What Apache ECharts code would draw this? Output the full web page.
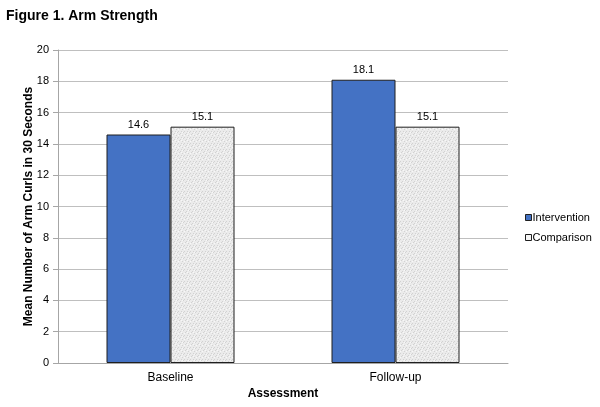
<!DOCTYPE html>
<html><head><meta charset="utf-8">
<script src="https://cdn.jsdelivr.net/npm/echarts@6/dist/echarts.min.js"></script>
<style>html,body{margin:0;padding:0;background:#fff}#c{width:600px;height:407px}</style>
</head><body><div id="c"></div>
<script>
const categories = ['Baseline', 'Follow-up'];
const intervention = [14.6, 18.1];
const comparison = [15.1, 15.1];
const yTicks = { min: 0, max: 20, interval: 2 };

// light speckled texture for the comparison bars
const pc = document.createElement('canvas');
pc.width = 6; pc.height = 6;
const g = pc.getContext('2d');
g.fillStyle = '#ebebeb'; g.fillRect(0, 0, 6, 6);
g.fillStyle = '#d2d2d2';
[[0,1],[3,0],[5,2],[2,3],[4,5],[1,5]].forEach(p => g.fillRect(p[0], p[1], 1, 1));
g.fillStyle = '#f8f8f8';
[[1,2],[4,3],[2,0]].forEach(p => g.fillRect(p[0], p[1], 1, 1));

const font = 'Liberation Sans, Arial, sans-serif';
const chart = echarts.init(document.getElementById('c'));
chart.setOption({
  animation: false,
  textStyle: { fontFamily: font },
  title: { text: 'Figure 1. Arm Strength', left: 1, top: 4,
    textStyle: { fontFamily: font, fontSize: 14, fontWeight: 'bold', color: '#000' } },
  legend: {
    orient: 'vertical', left: 520, top: 207, itemWidth: 6, itemHeight: 6, itemGap: 9,
    textStyle: { fontFamily: font, fontSize: 11, color: '#000', padding: [0, 0, 0, -4] },
    data: [
      { name: 'Intervention', icon: 'rect', itemStyle: { color: '#4472c4', borderColor: '#1f1f1f', borderWidth: 1 } },
      { name: 'Comparison', icon: 'rect', itemStyle: { color: '#f5f5f5', borderColor: '#1f1f1f', borderWidth: 1 } }
    ]
  },
  grid: { left: 58, right: 92, top: 50, bottom: 44, outerBoundsMode: 'none', containLabel: false },
  xAxis: {
    type: 'category', data: categories,
    name: 'Assessment', nameLocation: 'middle', nameGap: 25, nameMoveOverlap: false,
    nameTextStyle: { fontFamily: font, fontSize: 12, fontWeight: 'bold', color: '#000' },
    axisLine: { lineStyle: { color: '#a6a6a6' } },
    axisTick: { show: false },
    axisLabel: { fontFamily: font, fontSize: 12, color: '#000', margin: 9 }
  },
  yAxis: {
    type: 'value', min: yTicks.min, max: yTicks.max, interval: yTicks.interval,
    name: 'Mean Number of Arm Curls in 30 Seconds', nameLocation: 'middle', nameGap: 23, nameMoveOverlap: false,
    nameTextStyle: { fontFamily: font, fontSize: 12, fontWeight: 'bold', color: '#000' },
    axisLine: { show: true, lineStyle: { color: '#a6a6a6' } },
    axisTick: { show: true, length: 5, lineStyle: { color: '#a6a6a6' } },
    axisLabel: { fontFamily: font, fontSize: 11, color: '#000', margin: 9 },
    splitLine: { lineStyle: { color: '#bfbfbf' } }
  },
  series: [
    { name: 'Intervention', type: 'bar', data: intervention, barWidth: 64, barGap: '0%',
      itemStyle: { color: '#4472c4', borderColor: '#1f1f1f', borderWidth: 1 },
      label: { show: true, position: 'top', distance: 4, fontFamily: font, fontSize: 11, color: '#000', formatter: p => p.value.toFixed(1) } },
    { name: 'Comparison', type: 'bar', data: comparison, barWidth: 64, barGap: '0%',
      itemStyle: { color: { image: pc, repeat: 'repeat' }, borderColor: '#1f1f1f', borderWidth: 1 },
      label: { show: true, position: 'top', distance: 4, fontFamily: font, fontSize: 11, color: '#000', formatter: p => p.value.toFixed(1) } }
  ]
});
</script></body></html>
